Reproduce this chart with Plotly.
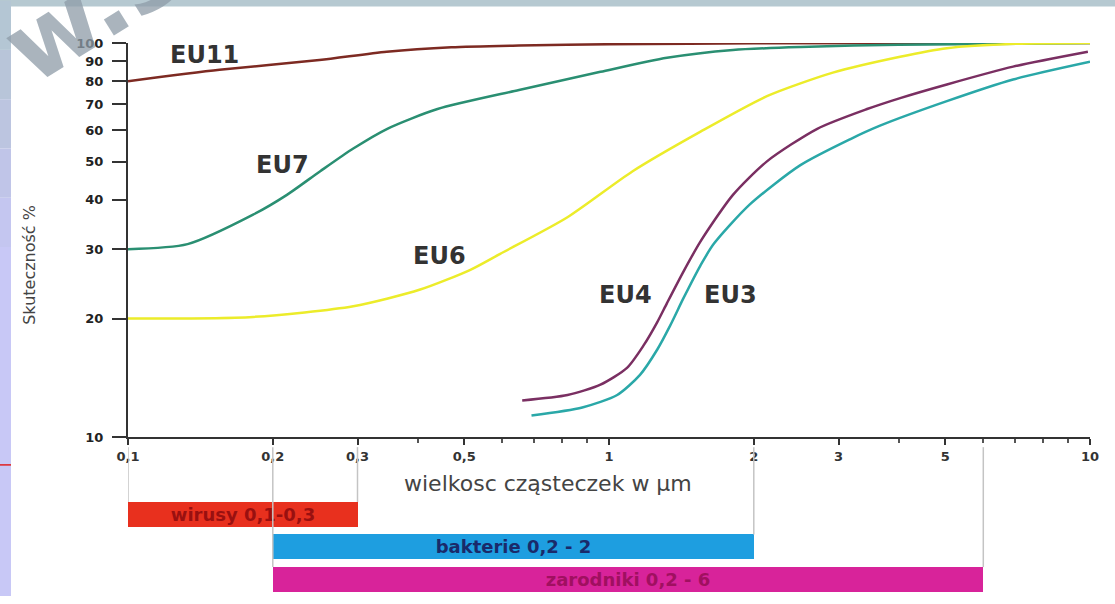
import math
import plotly.graph_objects as go

# Particle size (µm) vs. filtration efficiency (%) for filter classes
eu11_x = [0.1, 0.155, 0.25, 0.345, 0.47, 0.65, 1.0, 2.0, 10]
eu11_y = [80, 85.5, 90.5, 95, 97.5, 98.5, 99.3, 99.8, 100]

eu7_x = [0.1, 0.133, 0.182, 0.214, 0.251, 0.294, 0.346, 0.44, 0.65, 0.96, 1.32, 1.81, 2.5, 4, 10]
eu7_y = [30, 30.9, 36.7, 41.2, 47.3, 54, 60.6, 68, 76, 84.5, 91.7, 96, 97.7, 99, 100]

eu6_x = [0.1, 0.182, 0.294, 0.405, 0.515, 0.594, 0.818, 1.12, 1.55, 2.13, 2.92, 4.03, 5.04, 7, 10]
eu6_y = [20, 20.2, 21.5, 23.7, 26.6, 29.2, 36.1, 47.3, 59.6, 73.3, 84.1, 92.3, 97, 99.5, 100]

eu4_x = [0.66, 0.82, 0.96, 1.09, 1.18, 1.26, 1.32, 1.43, 1.55, 1.81, 2.13, 2.71, 3.44, 4.03, 5.04, 6.92, 9.9]
eu4_y = [12.4, 12.8, 13.6, 15, 17.1, 19.6, 21.9, 26.4, 31.4, 41.2, 50.1, 60.6, 68, 72.5, 78.5, 87.1, 95]

eu3_x = [0.69, 0.88, 1.04, 1.16, 1.26, 1.34, 1.43, 1.55, 1.65, 1.96, 2.5, 3.17, 3.66, 5.04, 6.92, 10]
eu3_y = [11.35, 11.9, 12.8, 14.4, 16.7, 19.2, 22.6, 27.3, 30.9, 38.9, 49, 57, 61.7, 71.2, 80.8, 89.6]

# Size ranges of particle types
band_names = ["wirusy", "bakterie", "zarodniki"]
band_start = [0.1, 0.2, 0.2]
band_end = [0.3, 2, 6]
band_text = ["wirusy 0,1-0,3", "bakterie 0,2 - 2", "zarodniki 0,2 - 6"]

x_tickvals = [0.1, 0.2, 0.3, 0.5, 1, 2, 3, 5, 10]
x_ticktext = ["0,1", "0,2", "0,3", "0,5", "1", "2", "3", "5", "10"]
x_minor = [0.4, 0.6, 0.7, 0.8, 0.9, 4, 6, 7, 8, 9]
y_tickvals = [10, 20, 30, 40, 50, 60, 70, 80, 90, 100]

W, H = 1115, 604
M_L, M_R, M_T, M_B = 128, 25, 43, 0
PLOT_W = W - M_L - M_R
PLOT_H = H - M_T - M_B
MAIN_BOTTOM = (H - 443) / PLOT_H
BAND_TOP = (H - 505) / PLOT_H


def px_x(p):
    return (p - M_L) / PLOT_W


def px_y(p):
    return (H - p) / PLOT_H


fig = go.Figure()

curves = [
    ("EU11", eu11_x, eu11_y, "#7d2a22"),
    ("EU7", eu7_x, eu7_y, "#2a8f72"),
    ("EU6", eu6_x, eu6_y, "#ecec2a"),
    ("EU4", eu4_x, eu4_y, "#7a2f62"),
    ("EU3", eu3_x, eu3_y, "#2aa8a8"),
]
for name, xs, ys, col in curves:
    fig.add_trace(go.Scatter(
        x=xs, y=ys, mode="lines", name=name,
        line=dict(color=col, width=2.5, shape="spline", smoothing=0.7),
        xaxis="x", yaxis="y", showlegend=False,
    ))

band_colors = ["#e8301e", "#1e9ee0", "#d8239a"]
band_font_colors = ["#9a1010", "#1a2a6a", "#a01060"]
fig.add_trace(go.Bar(
    y=band_names,
    x=[e - s for s, e in zip(band_start, band_end)],
    base=band_start,
    orientation="h",
    width=0.78,
    marker=dict(color=band_colors, line=dict(width=0)),
    text=band_text,
    textposition="inside",
    insidetextanchor="middle",
    textfont=dict(family="DejaVu Sans", size=18, color=band_font_colors, weight="bold"),
    constraintext="none",
    xaxis="x2", yaxis="y2", showlegend=False, hoverinfo="skip",
))

font_main = "DejaVu Sans"
fig.update_layout(
    width=W, height=H,
    margin=dict(l=M_L, r=M_R, t=M_T, b=M_B),
    paper_bgcolor="white", plot_bgcolor="white",
    xaxis=dict(
        type="log", range=[-1, 1], anchor="y", domain=[0, 1],
        tickvals=x_tickvals, ticktext=x_ticktext,
        ticks="outside", ticklen=6, tickwidth=1.5, tickcolor="#333",
        minor=dict(tickvals=x_minor, ticks="outside", ticklen=4, tickcolor="#555"),
        showline=True, linecolor="#333", linewidth=2,
        showgrid=False, zeroline=False,
        tickfont=dict(family=font_main, size=13, color="#333", weight="bold"),
    ),
    yaxis=dict(
        type="log", range=[1, 2], domain=[MAIN_BOTTOM, 1], anchor="x",
        tickvals=y_tickvals, ticktext=[str(v) for v in y_tickvals],
        ticks="outside", ticklen=14, tickwidth=1.5, tickcolor="#333",
        ticklabelstandoff=6,
        showline=True, linecolor="#333", linewidth=2,
        showgrid=False, zeroline=False,
        tickfont=dict(family=font_main, size=13, color="#222", weight="bold"),
    ),
    xaxis2=dict(
        type="log", range=[-1, 1], anchor="y2", domain=[0, 1],
        visible=False, showgrid=False,
    ),
    yaxis2=dict(
        type="category", domain=[0, BAND_TOP], range=[2.5, -0.5],
        anchor="x2", visible=False, showgrid=False,
    ),
    bargap=0,
)


# Thin guide lines from the size axis down to each band edge
def band_top_paper(i):
    return BAND_TOP * (2.5 - (i - 0.39)) / 3.0


guide_top = px_y(453)
edges = {}
for i, (s, e) in enumerate(zip(band_start, band_end)):
    for xv in (s, e):
        y_end = band_top_paper(i)
        edges[xv] = min(edges.get(xv, y_end), y_end)
for xv, y_end in edges.items():
    fig.add_shape(type="line", xref="x", yref="paper", x0=xv, x1=xv,
                  y0=guide_top, y1=y_end, line=dict(color="#c4c4c4", width=1.5))

# Slide frame: top band and left strip
fig.add_shape(type="rect", xref="paper", yref="paper",
              x0=px_x(0), x1=px_x(W), y0=px_y(6), y1=px_y(-20),
              fillcolor="#b6c9d1", line=dict(width=0), layer="above")
strip_cols = ["#b4c6d4", "#b8c5d9", "#bcc5e0", "#c0c5e8", "#c4c6f0", "#c8c8f6"]
strip_edges = [0, 50, 100, 150, 200, 250, 604]
for k, col in enumerate(strip_cols):
    fig.add_shape(type="rect", xref="paper", yref="paper",
                  x0=px_x(0), x1=px_x(11),
                  y0=px_y(strip_edges[k + 1]), y1=px_y(strip_edges[k]),
                  fillcolor=col, line=dict(width=0), layer="above")
fig.add_shape(type="line", xref="paper", yref="paper",
              x0=px_x(0), x1=px_x(11), y0=px_y(471), y1=px_y(471),
              line=dict(color="#e02020", width=1.5), layer="above")

# Curve labels
curve_labels = [
    ("EU11", 0.1445, 93.3),
    ("EU7", 0.21, 49),
    ("EU6", 0.445, 28.8),
    ("EU4", 1.08, 23.0),
    ("EU3", 1.785, 23.0),
]
for txt, lx, ly in curve_labels:
    fig.add_annotation(x=math.log10(lx), y=math.log10(ly), xref="x", yref="y",
                       text=txt, showarrow=False, xanchor="center", yanchor="middle",
                       font=dict(family=font_main, size=24, color="#333", weight="bold"))

# Axis titles
fig.add_annotation(x=px_x(548), y=px_y(490), xref="paper", yref="paper",
                   text="wielkosc cząsteczek w µm", showarrow=False,
                   xanchor="center", yanchor="middle",
                   font=dict(family=font_main, size=22, color="#444"))
fig.add_annotation(x=px_x(30), y=px_y(268), xref="paper", yref="paper",
                   text="Skuteczność %", textangle=-90, showarrow=False,
                   xanchor="center", yanchor="middle",
                   font=dict(family=font_main, size=16, color="#444"))

# Watermark in the top-left corner
fig.add_annotation(x=px_x(92), y=px_y(8), xref="paper", yref="paper",
                   text="<b>w.s</b>", textangle=-32, showarrow=False,
                   xanchor="center", yanchor="middle", opacity=0.75,
                   font=dict(family="DejaVu Sans", size=100, color="#8e9ca8"))

fig.write_html("out.html")
